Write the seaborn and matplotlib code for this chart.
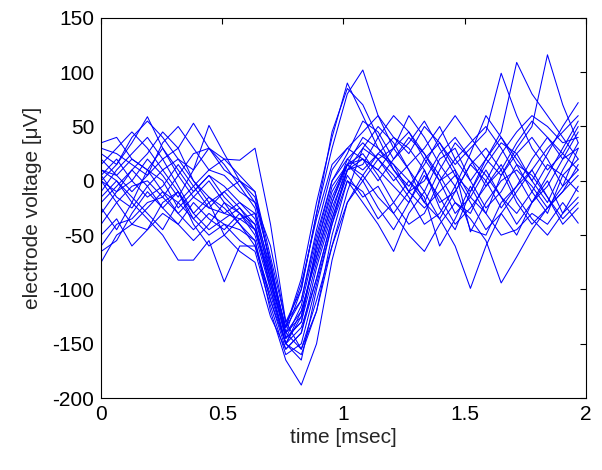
import numpy as np
import pandas as pd
import matplotlib
matplotlib.use("Agg")
import matplotlib.pyplot as plt
import seaborn as sns

# sample times (ms), 32 samples per waveform
t = [0.000, 0.064, 0.127, 0.191, 0.254, 0.318, 0.381, 0.445,
     0.508, 0.572, 0.635, 0.699, 0.762, 0.826, 0.889, 0.953,
     1.016, 1.080, 1.143, 1.207, 1.270, 1.334, 1.397, 1.461,
     1.524, 1.588, 1.651, 1.715, 1.778, 1.842, 1.905, 1.969]

# spike waveforms (uV)
w01 = [0, 15, 35, 59, 30, 5, -15, -25, -30, -35, -45, -95, -140, -100, -30, 30, 80, 102, 60, 30, 45, 20, 0, 10, -15, -30, 5, 25, 0, -20, 10, 35]
w02 = [-75, -50, -40, -45, -20, -10, -30, -15, -25, -40, -60, -110, -150, -120, -70, -20, 15, 20, 10, -5, -20, 10, -25, -45, -10, 20, 40, 15, -10, -30, 5, 20]
w03 = [35, 40, 20, 10, 0, -25, -10, 5, -5, -20, -30, -80, -135, -90, -20, 40, 90, 60, 30, 15, -10, 0, 25, 40, 20, -5, 10, 35, 55, 40, 20, 45]
w04 = [-30, -10, 0, 20, 5, -15, 10, 51, 25, 0, -10, -70, -130, -110, -50, 0, 20, 10, 25, 40, 30, 10, -20, -10, 15, 30, 10, -20, -40, -25, -10, 5]
w05 = [10, 0, -20, -35, -50, -73, -73, -55, -93, -60, -60, -105, -150, -165, -100, -40, 10, 30, 20, 5, -15, -40, -30, -5, -45, -50, -20, -5, 20, 40, 25, 10]
w06 = [-60, -40, -35, -20, -15, 5, 25, 30, 20, 19, 30, -40, -130, -155, -120, -60, -10, 30, 50, 35, 10, -10, 20, 30, 0, -25, -10, 15, 5, -15, -35, -20]
w07 = [20, 5, -10, 5, 20, 30, 53, 30, 10, 0, -15, -75, -140, -125, -60, -10, 15, 25, 5, -20, -40, -30, 0, 20, 35, 50, 30, 5, -20, -5, 20, 30]
w08 = [0, -10, 10, 25, 45, 30, 0, -20, -10, -25, -40, -90, -145, -130, -75, -25, 10, 15, 40, 60, 45, 25, 5, -20, -30, 0, 25, 45, 60, 50, 35, 40]
w09 = [-50, -35, -60, -45, -30, -40, -20, -35, -45, -30, -50, -100, -150, -160, -120, -50, 0, -20, -40, -65, -30, -10, -35, -60, -99, -60, -30, -50, -20, 0, -30, -15]
w10 = [15, 30, 45, 30, 10, 20, 0, -15, -30, -20, -35, -85, -135, -95, -35, 15, 30, 45, 60, 40, 25, 50, 35, 15, 30, 45, 99, 60, 30, 10, 25, 50]
w11 = [-20, -5, 10, -5, -25, -10, -35, -50, -40, -45, -55, -110, -155, -140, -80, -30, 15, 5, -15, -30, -50, -65, -40, -20, -35, -55, -94, -70, -45, -25, -5, 10]
w12 = [5, 20, 0, -15, -5, 15, -5, -25, -10, 0, -20, -75, -140, -120, -70, -20, 20, 35, 20, 0, 15, 30, 50, 20, 0, 20, 45, 109, 80, 60, 40, 20]
w13 = [-10, 10, 25, 40, 20, -5, -30, -45, -35, -25, -45, -95, -150, -135, -90, -35, 10, 20, 0, 20, 40, 25, 0, -30, -15, 10, -15, -40, -20, 5, 30, 55]
w14 = [30, 25, 15, 5, 35, 50, 30, 10, 5, -10, -20, -60, -130, -100, -30, 45, 85, 70, 40, 10, -5, 15, 40, 60, 40, 20, 5, 30, 50, 116, 70, 35]
w15 = [-65, -55, -30, -10, -25, -40, -55, -40, -20, -30, -45, -90, -140, -155, -110, -60, -20, 0, 20, 30, 10, -20, -35, -10, 15, 0, -25, -5, 10, -15, -40, -25]
w16 = [0, -20, -40, -25, -10, -30, -15, 0, -20, -40, -55, -120, -165, -188, -150, -73, -20, 5, 25, 15, 0, -20, 10, 35, 20, 5, -15, -30, -10, 15, 5, -10]
w17 = [10, 5, 20, 10, -10, -20, -5, 10, 20, 5, -10, -80, -145, -130, -60, -5, 15, 40, 30, 10, -10, -25, -10, 5, -20, -45, -30, -10, 10, 30, 45, 60]
w18 = [-40, -20, -5, 0, -15, -30, -45, -30, -40, -55, -65, -115, -160, -150, -95, -40, 0, -10, -35, -20, 0, -15, -60, -35, -5, -30, -50, -45, -30, -40, -20, -39]
w19 = [25, 15, 40, 55, 40, 20, 10, 30, 15, -5, -25, -85, -135, -110, -45, 10, 30, 20, 10, 30, 60, 40, 15, -5, 25, 60, 40, 20, 0, 25, 50, 72]
w20 = [-15, 0, -15, -30, -45, -20, -35, -20, -50, -65, -75, -125, -155, -140, -90, -35, 5, -15, -5, -30, -10, 20, 35, 10, -47, -20, 0, 10, -5, -25, -10, 15]
w21 = [5, -15, -25, -5, 10, -10, -40, -60, -50, -35, -30, -90, -145, -115, -55, 0, 25, 55, 45, 20, 35, 55, 30, 5, -10, 15, 35, 25, 40, 20, -5, 30]
w22 = [-25, -45, -20, 10, 30, 10, -10, 5, -15, -30, -40, -100, -150, -125, -65, -15, 15, 0, -25, -45, -20, 5, -15, -40, -25, -5, 15, -15, -35, -50, -30, -5]

waves = [w01, w02, w03, w04, w05, w06, w07, w08, w09, w10, w11,
         w12, w13, w14, w15, w16, w17, w18, w19, w20, w21, w22]

rows = []
for k, w in enumerate(waves):
    for ti, v in zip(t, w):
        rows.append({"spike": k, "time": ti, "voltage": v})
df = pd.DataFrame(rows)

sns.set_style("white")
plt.rcParams["font.family"] = ["Liberation Sans", "DejaVu Sans"]
plt.rcParams["axes.unicode_minus"] = False

fig = plt.figure(figsize=(6.02, 4.70), dpi=100)
ax = fig.add_axes([0.168, 0.153, 0.805, 0.809])

sns.lineplot(data=df, x="time", y="voltage", units="spike", estimator=None,
             color="#0000ff", linewidth=0.75, ax=ax)

ax.set_xlim(0, 2)
ax.set_ylim(-200, 150)
ax.set_xticks([0, 0.5, 1, 1.5, 2])
ax.set_xticklabels(["0", "0.5", "1", "1.5", "2"])
ax.set_yticks(np.arange(-200, 151, 50))
ax.tick_params(direction="in", length=4, width=0.8, labelsize=15,
               top=True, right=True, colors="black", pad=5)
for s in ax.spines.values():
    s.set_color("black")
    s.set_linewidth(0.8)
ax.set_xlabel("time [msec]", fontsize=15, labelpad=3)
ax.set_ylabel("electrode voltage [\u03bcV]", fontsize=15, labelpad=7)

fig.savefig("out.png", dpi=100)
